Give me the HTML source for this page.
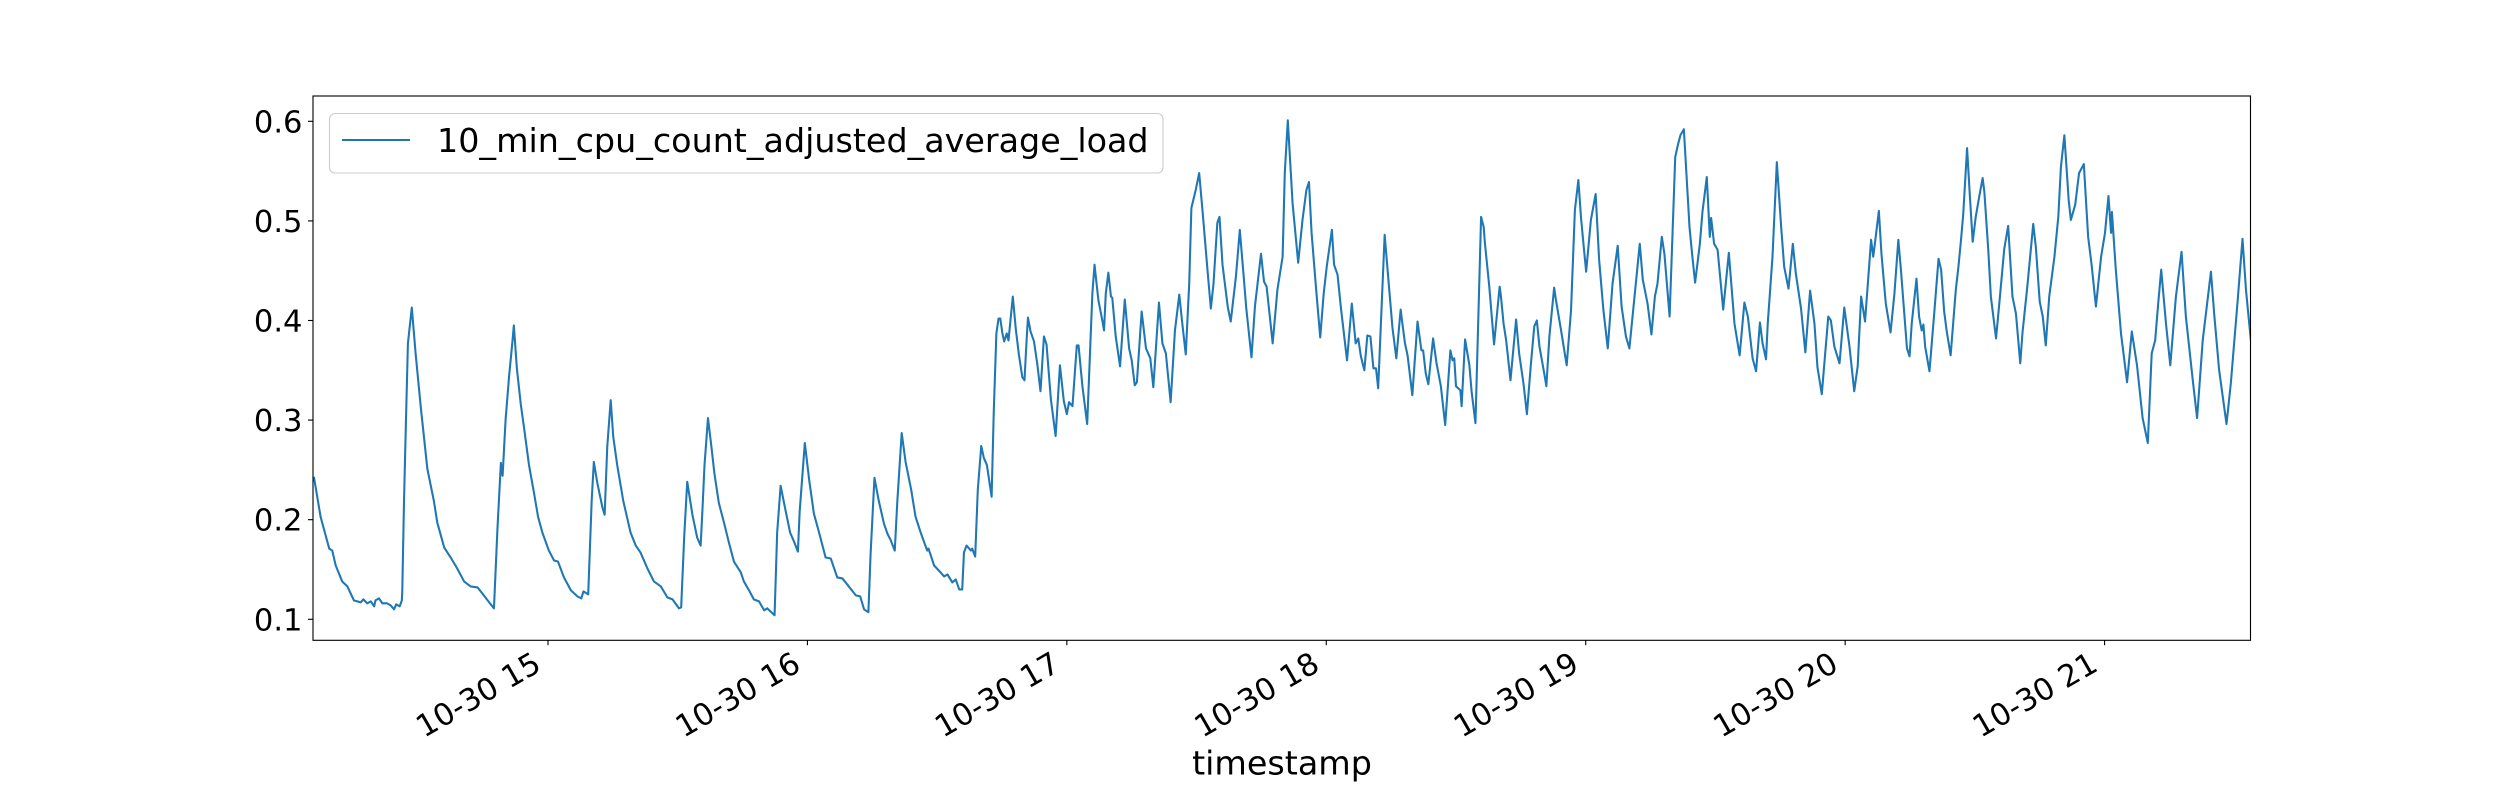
<!DOCTYPE html>
<html lang="en">
<head>
<meta charset="utf-8">
<title>10 min CPU count adjusted average load</title>
<style>
html,body{margin:0;padding:0;background:#fff;width:2500px;height:800px;overflow:hidden}
svg{display:block}
text{font-family:"DejaVu Sans","Liberation Sans",sans-serif;fill:#000}
</style>
</head>
<body>
<svg id="chart" xmlns="http://www.w3.org/2000/svg" width="2500" height="800" viewBox="0 0 2500 800">
  <defs><clipPath id="plot-clip"><rect x="313" y="96" width="1937.5" height="544.3"/></clipPath></defs>
  <rect x="313" y="96" width="1937.5" height="544.3" fill="#fff"/>
  <g id="ticks"></g>
  <path id="series" fill="none" stroke="#1f77b4" stroke-width="2.08" stroke-linejoin="round" stroke-linecap="square" clip-path="url(#plot-clip)"/>
  <rect x="313" y="96" width="1937.5" height="544.3" fill="none" stroke="#000" stroke-width="1.11"/>
  <g>
    <rect x="329.5" y="113.5" width="833.5" height="59.5" rx="5.5" ry="5.5" fill="#fff" fill-opacity="0.8" stroke="#ccc" stroke-width="1.11"/>
    <line x1="342" y1="140" x2="410" y2="140" stroke="#1f77b4" stroke-width="2.08"/>
    <text x="437" y="152" font-size="33.33">10_min_cpu_count_adjusted_average_load</text>
  </g>
  <text x="1282" y="774.5" font-size="33.33" text-anchor="middle">timestamp</text>
</svg>
<script>
// Minutes after 14:00 on 10-30
const minutes = [
5.9,7.4,9.4,10.1,10.9,12.4,13.6,15.1,16.7,17.3,18.2,19.0,19.8,20.1,20.9,21.7,22.8,23.6,24.4,24.9,25.7,26.2,26.3,26.7,27.1,27.6,28.5,29.4,30.6,32.1,33.6,34.4,36.0,37.5,39.0,40.6,42.1,43.7,44.8,46.4,47.5,
48.3,49.1,49.5,50.2,51.0,51.8,52.1,52.8,53.7,54.5,55.6,56.8,57.7,58.7,60.2,61.4,62.3,63.7,65.3,66.8,67.7,68.2,69.3,
70.1,70.6,71.4,72.6,73.1,73.7,74.5,75.1,76.0,77.4,79.1,80.3,81.4,83.0,84.5,86.1,87.6,88.8,90.3,90.8,
91.5,92.2,93.4,94.5,95.3,95.7,96.2,97.0,97.8,98.5,99.5,100.7,101.9,103.0,104.6,105.3,106.5,107.6,108.8,110.0,110.7,112.4,
113.0,113.8,115.0,116.0,116.9,117.8,118.2,119.4,120.4,121.5,122.7,124.2,125.4,126.9,128.1,129.2,131.2,132.2,133.1,134.1,
134.6,135.5,136.5,137.7,138.5,139.2,140.2,140.8,141.8,142.7,144.0,145.0,146.2,147.7,148.0,149.3,150.8,151.6,152.4,153.5,154.3,155.1,155.8,
156.2,156.8,157.8,158.1,158.8,159.4,160.2,160.8,161.5,162.6,
163.1,163.7,164.2,164.6,165.1,165.5,166.1,166.5,167.5,168.2,168.9,169.7,170.2,170.6,171.0,171.6,172.4,173.2,173.9,174.7,175.3,176.3,177.4,178.4,179.3,180.0,180.5,181.3,182.3,182.7,183.6,184.7,185.9,186.4,187.3,187.8,
188.2,188.6,189.0,189.6,190.2,190.5,191.3,192.3,193.4,194.4,195.0,195.7,196.2,197.3,198.3,199.3,200.0,201.3,202.1,202.9,204.0,205.0,206.0,206.7,207.5,208.3,208.8,209.8,210.6,211.4,212.5,213.3,213.9,214.8,215.3,216.0,217.2,217.9,219.1,220.0,220.9,221.5,222.7,223.5,224.9,225.6,226.2,227.6,228.7,229.9,230.4,231.1,232.2,233.0,233.5,234.5,235.4,236.0,236.6,237.6,238.6,239.4,240.1,241.3,241.8,242.6,243.4,244.8,245.9,246.8,247.4,248.0,248.8,249.5,250.2,250.9,251.5,252.0,253.5,254.5,255.3,256.2,257.2,257.6,258.2,258.8,259.9,261.1,262.0,262.4,263.0,263.6,264.7,265.5,266.5,267.5,268.7,269.2,269.6,270.0,271.0,271.3,272.1,273.1,273.6,274.5,275.8,276.4,276.7,277.7,278.8,279.6,280.1,
280.4,281.0,281.6,282.6,283.9,284.6,285.6,286.4,287.3,288.1,288.7,289.3,290.4,290.9,291.6,292.7,293.1,294.3,295.6,296.6,297.5,298.3,298.9,299.5,300.1,301.2,302.3,303.1,304.1,305.1,306.2,307.4,308.3,309.3,310.1,310.9,312.5,313.2,314.3,315.2,316.0,316.6,317.6,318.2,319.4,320.7,321.3,321.9,322.7,324.0,324.6,325.3,326.4,327.0,328.0,328.7,329.0,329.7,330.5,331.8,333.1,334.4,335.6,336.7,337.5,338.6,339.4,340.3,340.9,341.7,342.1,343.2,344.2,345.2,345.9,346.9,347.9,348.6,349.8,350.8,351.9,352.9,353.6,354.6,356.1,356.7,357.5,358.7,359.8,361.0,362.1,362.9,363.7,364.6,366.0,366.5,367.8,368.4,369.4,370.5,371.4,372.3,
372.9,373.5,374.3,374.9,375.4,376.5,377.1,377.7,378.1,378.5,379.5,380.6,381.6,382.2,382.9,383.5,384.4,385.6,386.2,386.8,387.3,388.2,388.9,389.5,390.2,391.0,391.8,392.2,393.1,393.7,394.9,395.8,396.8,397.7,398.7,399.5,400.5,401.0,402.2,403.5,404.1,405.0,405.7,406.4,407.2,408.4,409.3,409.9,410.7,411.7,412.2,413.2,414.1,415.2,416.2,417.0,418.0,419.2,420.1,420.9,421.5,421.7,422.6,423.8,425.2,426.3,427.5,428.8,430.0,430.9,431.7,432.4,433.1,434.2,435.2,436.5,437.8,438.8,440.4,441.4,442.7,444.6,445.4,446.5,448.2,449.2,450.8,451.9,452.7,453.9
];
// Load values at those minutes
const loadValues = [
.242,.203,.171,.169,.154,.138,.133,.119,.117,.120,.116,.118,.113,.119,.121,.116,.116,.114,.110,.115,.113,.119,.129,.219,.291,.377,.413,.366,.312,.251,.219,.197,.172,.162,.151,.138,.133,.132,.126,.117,.111,
.190,.257,.244,.301,.344,.380,.395,.352,.316,.291,.255,.226,.203,.187,.169,.159,.158,.142,.129,.123,.121,.128,.125,
.219,.258,.237,.212,.205,.273,.320,.283,.255,.219,.187,.174,.167,.151,.138,.133,.122,.120,.111,.112,
.183,.238,.205,.182,.174,.208,.255,.302,.273,.246,.217,.197,.176,.158,.147,.138,.129,.120,.118,.109,.111,.104,
.187,.234,.208,.187,.178,.168,.208,.277,.240,.206,.187,.162,.161,.142,.141,.135,.124,.123,.110,.107,
.165,.242,.219,.196,.186,.180,.169,.219,.287,.258,.230,.203,.187,.169,.171,.154,.147,.143,.145,.137,.140,.130,.130,
.167,.174,.169,.171,.163,.230,.274,.262,.255,.223,
.309,.387,.402,.402,.387,.379,.387,.380,.424,.391,.366,.343,.340,.373,.403,.389,.379,.355,.329,.384,.376,.321,.284,.355,.319,.306,.318,.314,.375,.375,.334,.296,.427,.456,.420,.409,
.400,.390,.427,.448,.424,.423,.384,.354,.421,.372,.360,.335,.338,.409,.372,.362,.333,.418,.377,.367,.318,.390,.426,.397,.366,.437,.513,.531,.548,.509,.452,.412,.436,.498,.504,.456,.414,.399,.444,.491,.444,.412,.363,.414,.467,.439,.434,.377,.431,.464,.548,.601,.518,.481,.458,.501,.531,.539,.488,.434,.383,.427,.454,.491,.456,.446,.412,.360,.417,.377,.382,.364,.350,.385,.384,.352,.352,.332,.486,.434,.393,.362,.411,.397,.377,.365,.325,.399,.370,.370,.347,.336,.382,.357,.334,.295,.370,.360,.362,.334,.330,.314,.381,.355,.329,.297,.504,.494,.477,.434,.376,.412,.434,
.424,.397,.380,.340,.401,.367,.337,.306,.355,.394,.400,.374,.347,.334,.384,.433,.421,.390,.355,.410,.511,.541,.504,.476,.449,.501,.527,.461,.410,.372,.437,.475,.414,.384,.372,.407,.477,.441,.417,.386,.424,.437,.484,.467,.404,.564,.576,.586,.592,.494,.467,.438,.477,.509,.544,.484,.503,.477,.471,.411,.468,.397,.365,.418,.404,.362,.349,.398,.377,.361,.397,.464,.559,.494,.454,.432,.477,.447,.412,.368,.430,.397,.353,.326,.404,.400,.374,.357,.413,.374,.329,.354,.424,.399,.481,.464,.510,.467,.417,.388,.427,.481,
.451,.417,.372,.364,.397,.442,.404,.390,.396,.374,.349,.407,.462,.451,.409,.389,.365,.431,.454,.481,.506,.573,.521,.479,.504,.524,.543,.529,.471,.424,.382,.424,.472,.495,.424,.407,.357,.387,.437,.497,.474,.419,.404,.375,.424,.464,.504,.554,.586,.521,.501,.516,.548,.557,.484,.456,.414,.464,.488,.525,.488,.509,.451,.387,.338,.389,.355,.302,.277,.367,.380,.417,.451,.397,.355,.424,.469,.404,.340,.302,.380,.449,.404,.350,.296,.337,.421,.482,.431,.377
];
const tickHours = [15,16,17,18,19,20,21];
const xTickLabels = ['10-30 15','10-30 16','10-30 17','10-30 18','10-30 19','10-30 20','10-30 21'];
const yTickValues = [0.1,0.2,0.3,0.4,0.5,0.6];
const yTickLabels = ['0.1','0.2','0.3','0.4','0.5','0.6'];

const SVGNS = 'http://www.w3.org/2000/svg';
const xDomain = [5.65, 453.75], xRange = [313, 2250.5];
const yDomain = [0.0792, 0.6254], yRange = [640, 96];
function xScale(m){ return xRange[0] + (m - xDomain[0]) / (xDomain[1] - xDomain[0]) * (xRange[1] - xRange[0]); }
function yScale(v){ return yRange[0] + (v - yDomain[0]) / (yDomain[1] - yDomain[0]) * (yRange[1] - yRange[0]); }

const n = Math.min(minutes.length, loadValues.length);
let d = '';
for (let i = 0; i < n; i++) {
  d += (i ? 'L' : 'M') + xScale(minutes[i]).toFixed(2) + ' ' + yScale(loadValues[i]).toFixed(2);
}
document.getElementById('series').setAttribute('d', d);

const tickGroup = document.getElementById('ticks');
function makeTick(x1, y1, x2, y2) {
  const t = document.createElementNS(SVGNS, 'line');
  t.setAttribute('x1', x1); t.setAttribute('y1', y1);
  t.setAttribute('x2', x2); t.setAttribute('y2', y2);
  t.setAttribute('stroke', '#000');
  t.setAttribute('stroke-width', '1.11');
  return t;
}
tickHours.forEach(function (h, i) {
  const x = xScale((h - 14) * 60);
  const t = makeTick(x, 640, x, 645.2);
  
  
  tickGroup.appendChild(t);
  const label = document.createElementNS(SVGNS, 'text');
  
  
  label.setAttribute('font-size', '30.56');
  label.setAttribute('text-anchor', 'end');
  const lx = x - 5, ly = 669.5;
  label.setAttribute('x', lx);
  label.setAttribute('y', ly);
  label.setAttribute('transform', 'rotate(-30 ' + lx + ' ' + ly + ')');
  label.textContent = xTickLabels[i];
  tickGroup.appendChild(label);
});
yTickValues.forEach(function (v, i) {
  const y = yScale(v);
  const t = makeTick(308, y, 313, y);
  
  
  tickGroup.appendChild(t);
  const label = document.createElementNS(SVGNS, 'text');
  
  
  label.setAttribute('font-size', '30.56');
  label.setAttribute('text-anchor', 'end');
  label.setAttribute('x', 302.5);
  label.setAttribute('y', y + 11);
  label.textContent = yTickLabels[i];
  tickGroup.appendChild(label);
});
</script>
</body>
</html>
